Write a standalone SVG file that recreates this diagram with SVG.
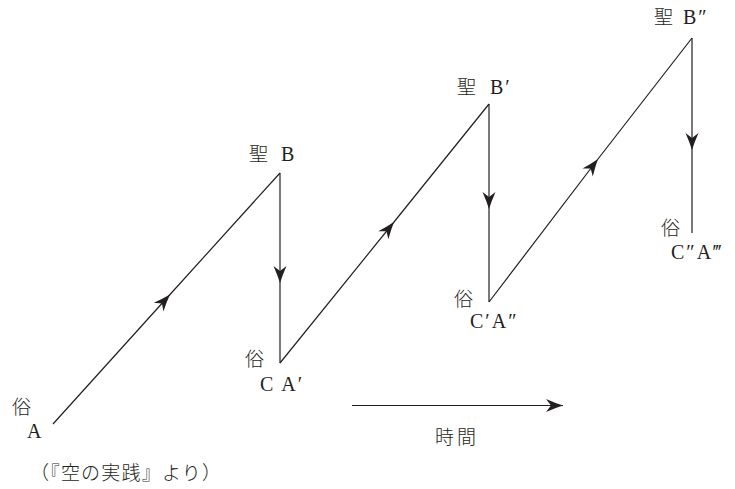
<svg xmlns="http://www.w3.org/2000/svg" width="735" height="489" viewBox="0 0 735 489">
<style>
.ln{fill:none;stroke:#231f20;stroke-width:1.2;marker-mid:url(#ah)}
.tm{fill:none;stroke:#231f20;stroke-width:1.2;marker-end:url(#ah)}
.cjk{font-family:"Noto Sans CJK JP","Noto Sans CJK SC",sans-serif;font-size:19px;fill:#231f20;font-weight:300}
.lat{font-family:"Liberation Serif","DejaVu Serif",serif;font-size:20px;fill:#231f20;letter-spacing:2px}
</style>
<defs>
<marker id="ah" markerUnits="userSpaceOnUse" markerWidth="20" markerHeight="16" refX="0" refY="0" viewBox="-18 -8 20 16" orient="auto" overflow="visible">
<path d="M0,0 Q-8,-2.5 -17,-6.5 L-12,0 L-17,6.5 Q-8,2.5 0,0 Z" fill="#231f20"/>
</marker>
</defs>
<g id="connectors">
<path class="ln" d="M53,424 L170,294.5 L280,173"/>
<path class="ln" d="M280,173 L280,283 L280,363"/>
<path class="ln" d="M280,363 L394,222 L489,104"/>
<path class="ln" d="M489,104 L489,209 L489,302"/>
<path class="ln" d="M489,302 L598,159 L692,38"/>
<path class="ln" d="M692,38 L692,150 L692,233"/>
<path class="tm" d="M352,405.5 L563,405.5"/>
</g>
<g id="node-A">
<text class="cjk" x="12" y="414">俗</text>
<text class="lat" x="27" y="438">A</text>
</g>
<g id="node-B">
<text class="cjk" x="249" y="161">聖</text>
<text class="lat" x="281" y="161">B</text>
</g>
<g id="node-CA1">
<text class="cjk" x="245" y="366">俗</text>
<text class="lat" x="260" y="391">C A′</text>
</g>
<g id="node-B1">
<text class="cjk" x="457" y="94">聖</text>
<text class="lat" x="490" y="94">B′</text>
</g>
<g id="node-CA2">
<text class="cjk" x="454" y="306">俗</text>
<text class="lat" x="470" y="328">C′A″</text>
</g>
<g id="node-B2">
<text class="cjk" x="654" y="24">聖</text>
<text class="lat" x="683" y="24">B″</text>
</g>
<g id="node-CA3">
<text class="cjk" x="661" y="235">俗</text>
<text class="lat" x="671" y="259">C″A‴</text>
</g>
<g id="time-label">
<text class="cjk" x="435" y="444" style="letter-spacing:3px">時間</text>
</g>
<g id="caption">
<text class="cjk" x="30" y="480" style="letter-spacing:1.2px">（『空の実践』より）</text>
</g>
</svg>
